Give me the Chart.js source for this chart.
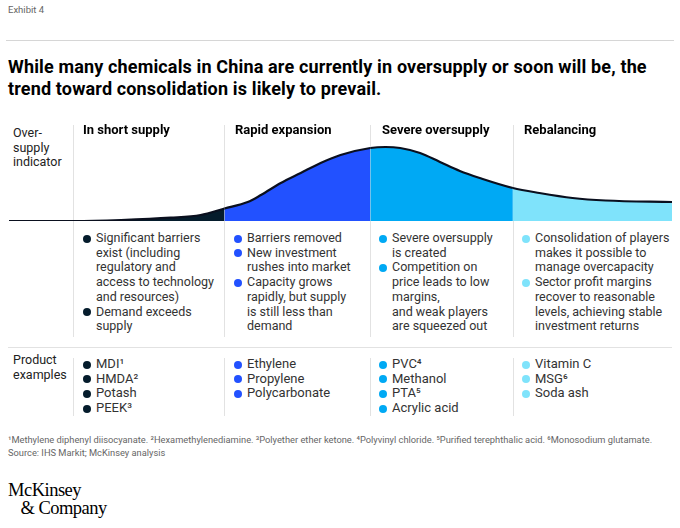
<!DOCTYPE html>
<html>
<head>
<meta charset="utf-8">
<script src="https://cdn.jsdelivr.net/npm/chart.js@4/dist/chart.umd.min.js"></script>
<style>
  body { margin: 0; background: #fff; font-family: Roboto, "Liberation Sans", sans-serif; }
  #page { position: relative; width: 680px; height: 528px; overflow: hidden; }
  .abs { position: absolute; }
  .exhibit { left: 8px; top: 4px; font-size: 9.5px; color: #666; }
  .rule { background: #d6d6d6; height: 1px; }
  .vline { background: #e2e2e2; width: 1px; }
  .title { left: 8px; top: 56px; font-size: 18px; line-height: 22px; letter-spacing: 0.15px; font-weight: bold; color: #000; }
  .label { left: 13px; font-size: 12.5px; line-height: 14.5px; color: #222; white-space: pre-line; }
  .head { top: 122px; font-size: 13px; line-height: 15px; font-weight: bold; color: #000; }
  .list { font-size: 12.5px; line-height: 14.7px; color: #333; }
  .item { position: relative; padding-left: 13px; white-space: pre-line; }
  .dot { position: absolute; left: 0; top: 3.5px; width: 8px; height: 8px; border-radius: 50%; }
  .foot { left: 8px; top: 433px; font-size: 9.3px; line-height: 13px; color: #666; }
  .logo { left: 8px; top: 481px; font-family: "Liberation Serif", "DejaVu Serif", serif; font-size: 18.5px; line-height: 18px; color: #000; letter-spacing: -0.5px; }
  #chartBox { left: 5px; top: 117px; width: 671px; height: 108px; }
</style>
</head>
<body>
<div id="page">
  <div class="abs exhibit">Exhibit 4</div>
  <div class="abs rule" style="left:6px; top:40px; width:668px;"></div>
  <div class="abs title">While many chemicals in China are currently in oversupply or soon will be, the<br>trend toward consolidation is likely to prevail.</div>

  <div class="abs label" style="top:126px;">Over-
supply
indicator</div>
  <div class="abs label" style="top:353px;">Product
examples</div>

  <div class="abs rule" style="left:8px; top:347px; width:664px; background:#e2e2e2;"></div>
  <div class="abs foot">¹Methylene diphenyl diisocyanate. ²Hexamethylenediamine. ³Polyether ether ketone. ⁴Polyvinyl chloride. ⁵Purified terephthalic acid. ⁶Monosodium glutamate.<br>Source: IHS Markit; McKinsey analysis</div>
  <div class="abs logo">McKinsey<br>&nbsp;&nbsp;&nbsp;&amp; Company</div>

  <div id="chartBox" class="abs"><canvas id="curve"></canvas></div>
</div>

<script>
// stages of the cycle
const stages = ["In short supply", "Rapid expansion", "Severe oversupply", "Rebalancing"];
const stageStart = [0, 32.5, 54.5, 76]; // where each stage begins on the progress axis (0-100)
const stageColors = ["#051c2c", "#2251ff", "#00a9f4", "#7fe3fb"];

// over-supply indicator along the cycle
const progress   = [0, 9.8, 16.9, 24.4, 28.9, 32.5, 36, 38, 41, 44, 47, 50, 54.5, 56.8, 59, 62, 65, 68, 71, 76, 80, 85, 90, 100];
const oversupply = [0, 0,   1,    3.3,  6,    12.5, 19, 26, 38, 48, 58, 66, 73,   74,   73, 68, 59, 50, 43, 33, 28, 23, 20.5, 19];

const stageBullets = [
  ["Significant barriers\nexist (including\nregulatory and\naccess to technology\nand resources)", "Demand exceeds\nsupply"],
  ["Barriers removed", "New investment\nrushes into market", "Capacity grows\nrapidly, but supply\nis still less than\ndemand"],
  ["Severe oversupply\nis created", "Competition on\nprice leads to low\nmargins,\nand weak players\nare squeezed out"],
  ["Consolidation of players\nmakes it possible to\nmanage overcapacity", "Sector profit margins\nrecover to reasonable\nlevels, achieving stable\ninvestment returns"]
];
const productExamples = [
  ["MDI¹", "HMDA²", "Potash", "PEEK³"],
  ["Ethylene", "Propylene", "Polycarbonate"],
  ["PVC⁴", "Methanol", "PTA⁵", "Acrylic acid"],
  ["Vitamin C", "MSG⁶", "Soda ash"]
];

// page layout
const page = document.getElementById("page");
const headX = [83, 235, 382, 524];
const listX = [83, 234, 379, 522];
const dividerX = [73, 224, 370, 513];

dividerX.forEach((x) => {
  page.insertAdjacentHTML("afterbegin", `<div class="abs vline" style="left:${x}px; top:125px; height:212px;"></div>`);
  page.insertAdjacentHTML("afterbegin", `<div class="abs vline" style="left:${x}px; top:358px; height:58px;"></div>`);
});

function addList(items, x, top, color, size) {
  const box = document.createElement("div");
  box.className = "abs list";
  box.style.left = x + "px";
  box.style.top = top + "px";
  if (size) box.style.fontSize = size + "px";
  items.forEach((t) => {
    const it = document.createElement("div");
    it.className = "item";
    it.innerHTML = `<span class="dot" style="background:${color}"></span>`;
    it.appendChild(document.createTextNode(t));
    box.appendChild(it);
  });
  page.appendChild(box);
}

stages.forEach((s, i) => {
  page.insertAdjacentHTML("beforeend", `<div class="abs head" style="left:${headX[i]}px;">${s}</div>`);
  addList(stageBullets[i], listX[i], 231, stageColors[i]);
  addList(productExamples[i], listX[i], 357, stageColors[i], 13);
});

// curve
function stageColor(x) {
  let c = stageColors[0];
  stageStart.forEach((s, i) => { if (x >= s) c = stageColors[i]; });
  return c;
}

new Chart(document.getElementById("curve"), {
  type: "line",
  data: {
    datasets: [{
      data: progress.map((x, i) => ({ x: x, y: oversupply[i] })),
      borderColor: "#0a0f1e",
      borderWidth: 2.2,
      pointRadius: 0,
      fill: "origin",
      backgroundColor: stageColors[0],
      cubicInterpolationMode: "monotone",
      segment: {
        backgroundColor: (ctx) => stageColor(ctx.p0.parsed.x)
      }
    }]
  },
  options: {
    responsive: true,
    maintainAspectRatio: false,
    animation: false,
    events: [],
    layout: { padding: 4 },
    plugins: { legend: { display: false }, tooltip: { enabled: false } },
    scales: {
      x: { type: "linear", min: 0, max: 100, display: false },
      y: { min: 0, max: 100, display: false }
    }
  }
});
</script>
</body>
</html>
